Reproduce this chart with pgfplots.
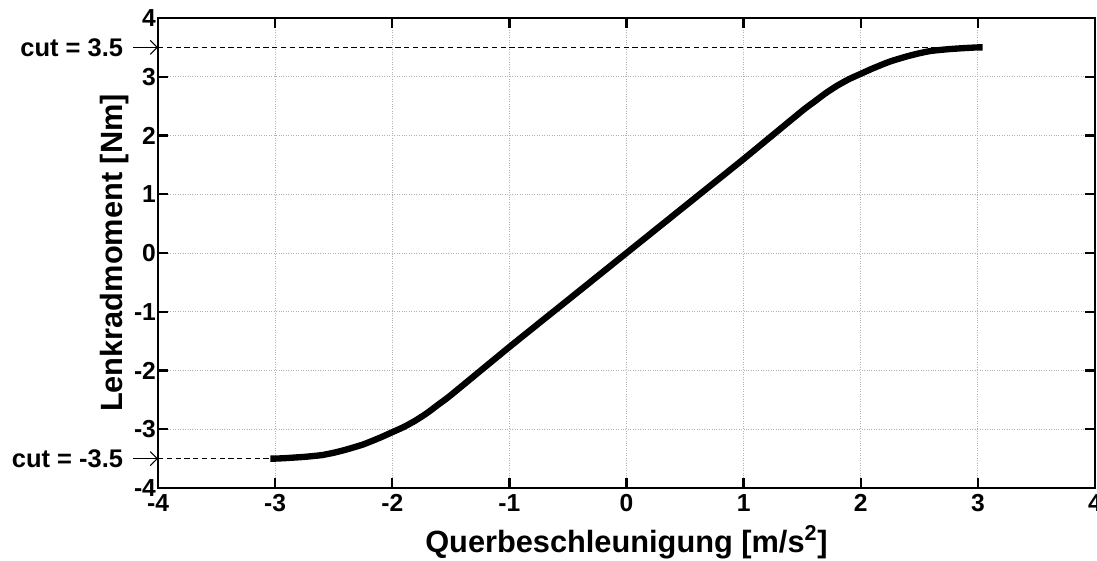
\documentclass[border=0pt]{standalone}
\usepackage{pgfplots}
\pgfplotsset{compat=1.18}
\usepackage{fontspec}
\setmainfont{Liberation Sans}
\usetikzlibrary{arrows.meta}
\begin{document}
\begin{tikzpicture}
\path[use as bounding box] (-3.16,-1.44) rectangle (18.78,9.76);
\begin{axis}[
  at={(0,0)}, anchor=south west,
  scale only axis, width=18.74cm, height=9.4cm,
  xmin=-4, xmax=4, ymin=-4, ymax=4,
  xtick={-4,-3,...,4}, ytick={-4,-3,...,4},
  grid=major,
  major grid style={densely dotted, gray!60, line width=0.5pt},
  axis line style={line width=1.3pt},
  major tick length=0.2cm,
  tick style={line width=1.3pt, black},
  /pgf/number format/assume math mode=true,
  ticklabel style={font=\fontsize{14}{16}\selectfont\bfseries},
  yticklabel style={inner sep=1pt},
  xticklabel style={inner sep=3.5pt},
  xlabel={Querbeschleunigung [m/s\textsuperscript{2}]},
  ylabel={Lenkradmoment [Nm]},
  label style={font=\fontsize{17.5}{21}\selectfont\bfseries},
  xlabel style={at={(axis description cs:0.5,0)}, anchor=base, yshift=-1.28cm},
  ylabel style={at={(axis description cs:-0.046,0.5)}, anchor=center},
  clip=false,
]
\addplot[line width=3.6pt, black, smooth, tension=0.3] coordinates {
(-3.04,-3.5) (-3.0,-3.5) (-2.9,-3.49) (-2.75,-3.47) (-2.6,-3.44) (-2.5,-3.40) (-2.4,-3.35) (-2.25,-3.26) (-2.1,-3.14) (-2.0,-3.05) (-1.9,-2.96) (-1.8,-2.85) (-1.7,-2.72) (-1.6,-2.57) (-1.5,-2.42) (-1.0,-1.6) (-0.5,-0.8) (0,0)
(0.5,0.8) (1.0,1.6) (1.5,2.42) (1.6,2.57) (1.7,2.72) (1.8,2.85) (1.9,2.96) (2.0,3.05) (2.1,3.14) (2.25,3.26) (2.4,3.35) (2.5,3.40) (2.6,3.44) (2.75,3.47) (2.9,3.49) (3.0,3.5) (3.04,3.5)
};
\addplot[densely dashed, line width=0.9pt, black] coordinates {(-4,3.5) (2.9,3.5)};
\addplot[densely dashed, line width=0.9pt, black] coordinates {(-4,-3.5) (-3.0,-3.5)};
\draw[line width=0.6pt, -{Straight Barb[length=4pt,width=8pt]}] (axis cs:-4.215,3.5) -- (axis cs:-4.0,3.5);
\draw[line width=0.6pt, -{Straight Barb[length=4pt,width=8pt]}] (axis cs:-4.215,-3.5) -- (axis cs:-4.0,-3.5);
\node[anchor=east, inner sep=0pt, font=\fontsize{14.5}{17}\selectfont\bfseries] at (axis cs:-4.295,3.5) {cut = 3.5};
\node[anchor=east, inner sep=0pt, font=\fontsize{14.5}{17}\selectfont\bfseries] at (axis cs:-4.295,-3.5) {cut = -3.5};
\end{axis}
\end{tikzpicture}
\end{document}
